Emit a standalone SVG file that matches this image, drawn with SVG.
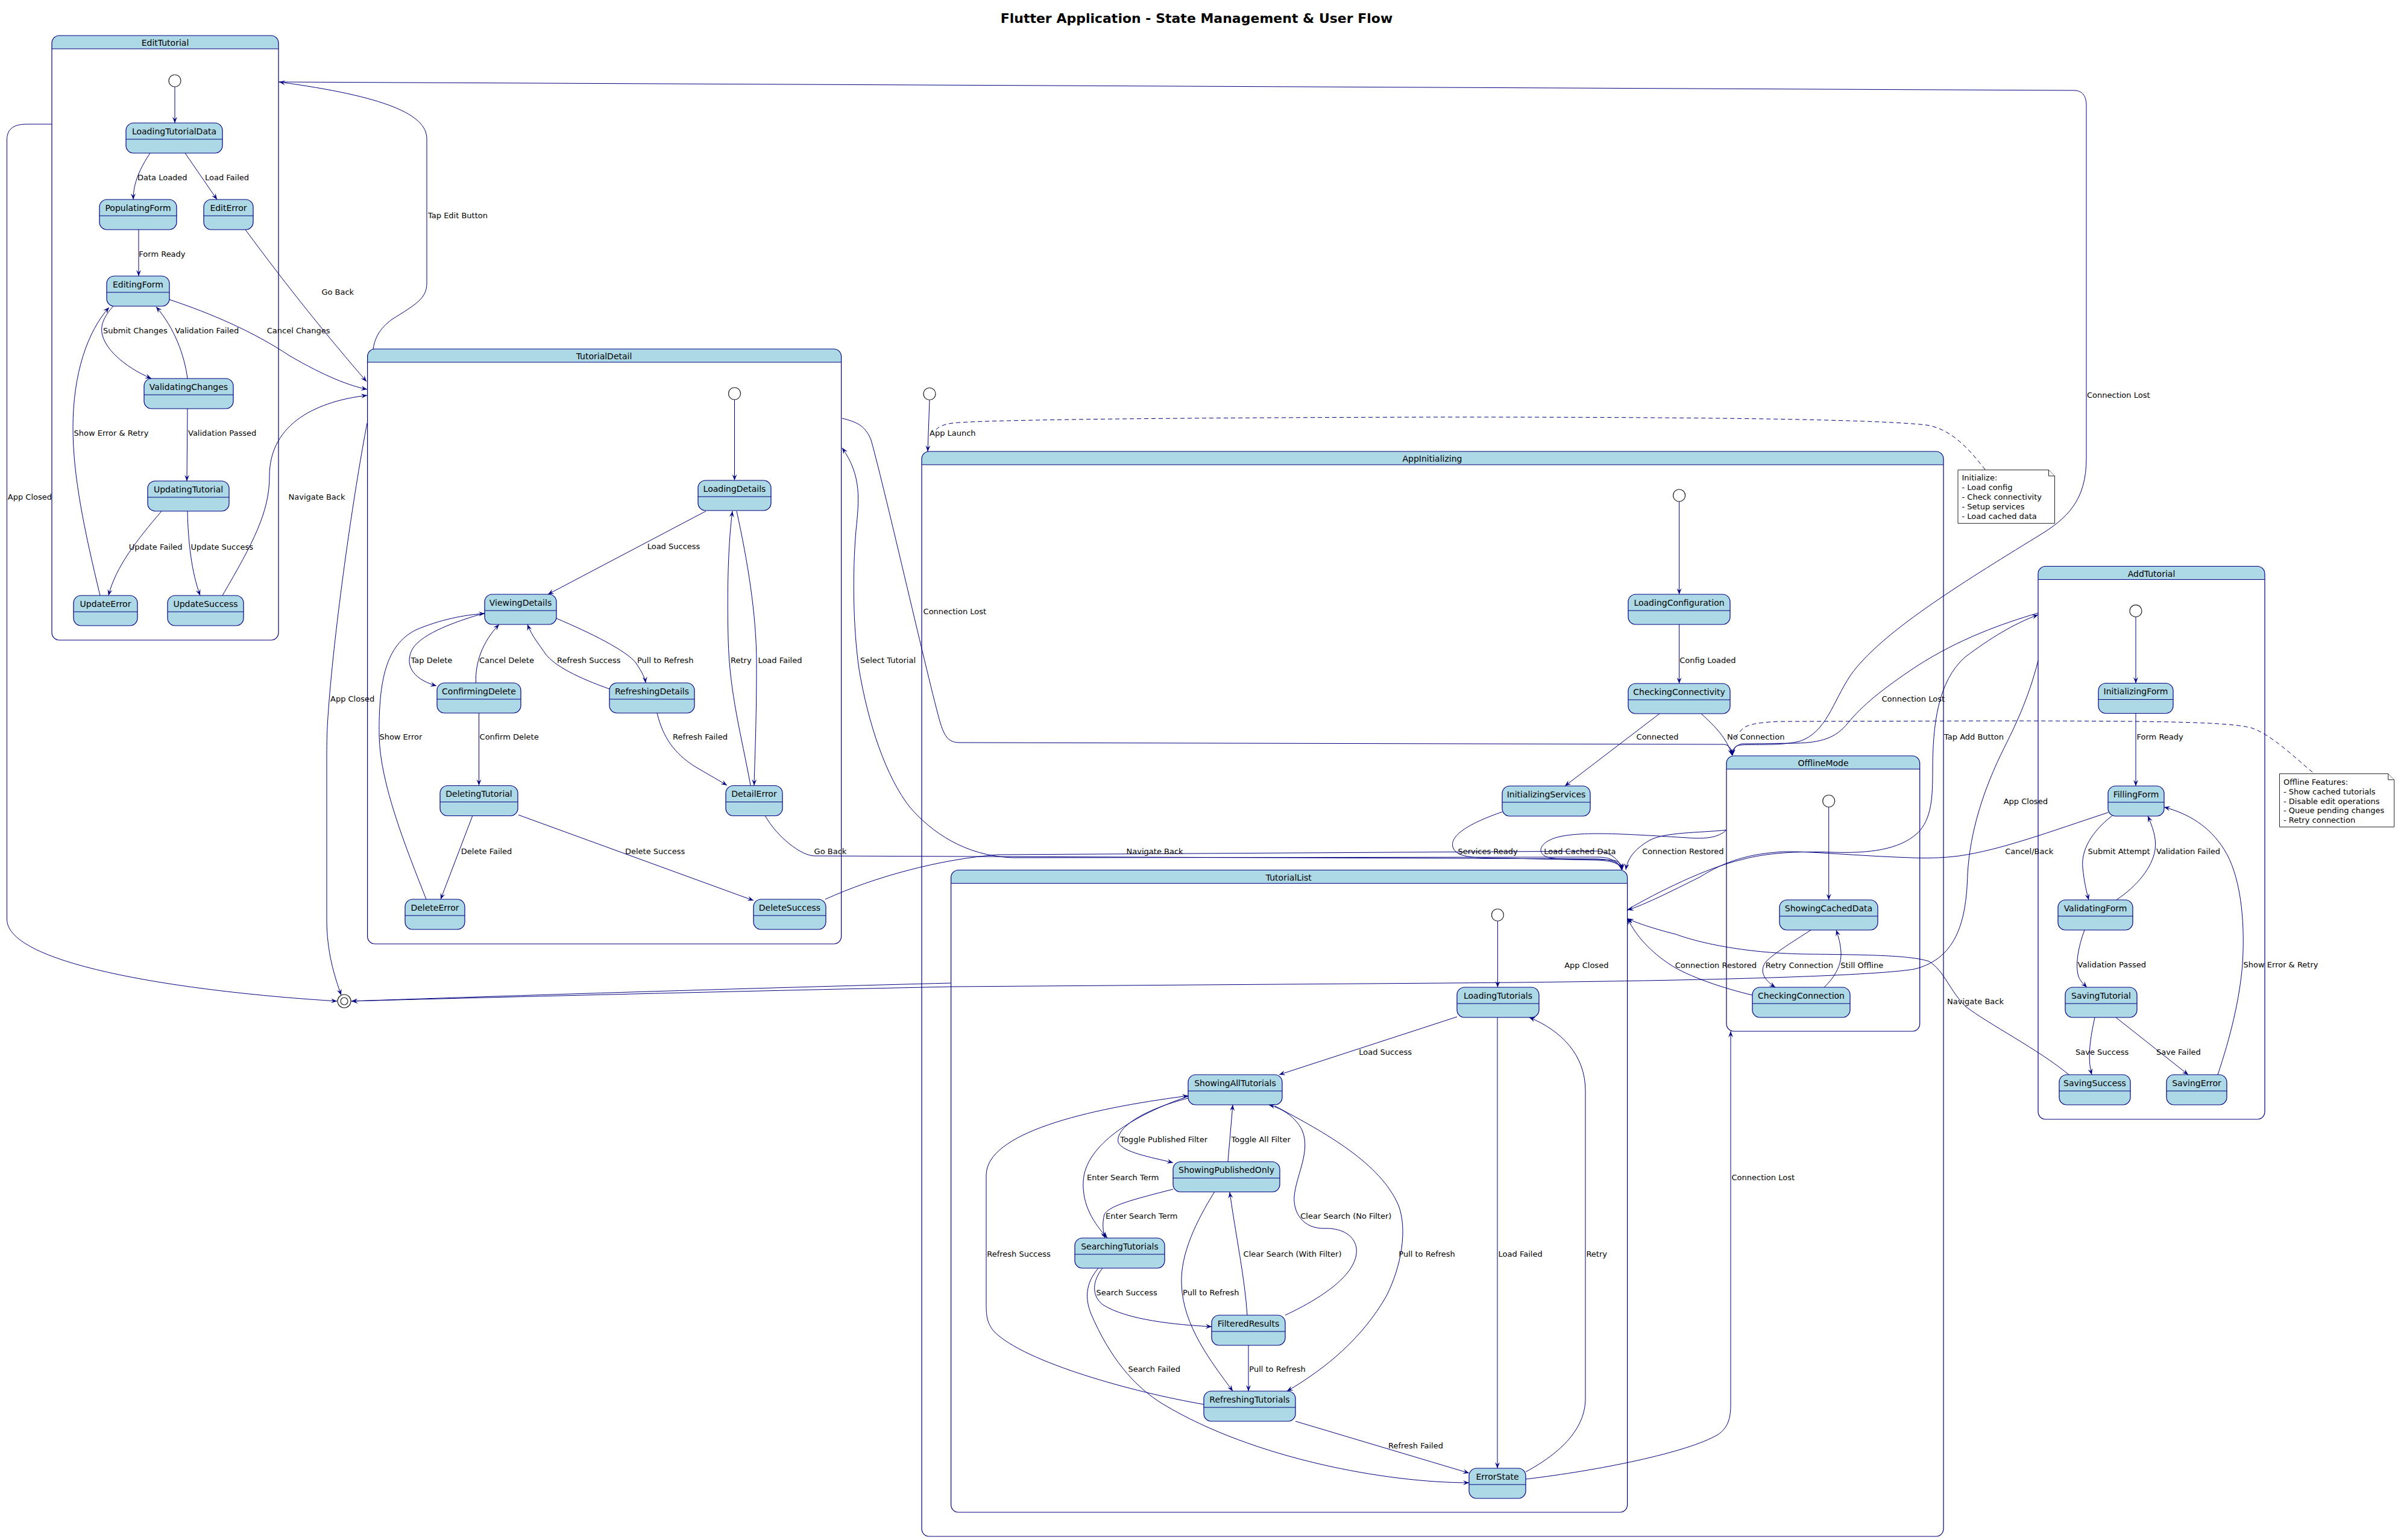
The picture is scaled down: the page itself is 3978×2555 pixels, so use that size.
<svg xmlns="http://www.w3.org/2000/svg" width="3978" height="2555" viewBox="0 0 3978 2555">
<defs>
<marker id="ah" viewBox="0 0 10 10" refX="10" refY="5" markerWidth="10" markerHeight="10" markerUnits="userSpaceOnUse" orient="auto">
<path d="M0,1 L10,5 L0,9 L4,5 Z" fill="#000080"/>
</marker>
<style>
text{font-family:"DejaVu Sans","Liberation Sans",sans-serif;fill:#000}
.title{font-size:22px;font-weight:bold;text-anchor:middle}
.nm{font-size:14px;text-anchor:middle}
.lb{font-size:13px}
.nt{font-size:13px}
.box{fill:#ADD8E6;stroke:#000080;stroke-width:1.2}
.sep{stroke:#000080;stroke-width:1.2}
.hdr{fill:#ADD8E6}
.frame{fill:none;stroke:#000080;stroke-width:1.2}
.init{fill:#fff;stroke:#222;stroke-width:1.2}
.e{fill:none;stroke:#000080;stroke-width:1;marker-end:url(#ah)}
.dash{fill:none;stroke:#000080;stroke-width:1;stroke-dasharray:7,5}
.note{fill:#fff;stroke:#222;stroke-width:1}
</style>
</defs>
<rect x="0" y="0" width="3978" height="2555" fill="#fff"/>
<text class="title" x="1985" y="38">Flutter Application - State Management &amp; User Flow</text>

<!-- composite states -->
<g id="EditTutorial">
<path class="hdr" d="M86,81 L86,71.5 Q86,59 98.5,59 L449.5,59 Q462,59 462,71.5 L462,81 Z"/>
<rect class="frame" x="86" y="59" width="376" height="1003" rx="12.5"/>
<line class="sep" x1="86" y1="81" x2="462" y2="81"/>
<text class="nm" x="274" y="76">EditTutorial</text>
</g>
<g id="TutorialDetail">
<path class="hdr" d="M609.6,601 L609.6,591.5 Q609.6,579 622.1,579 L1383.1,579 Q1395.6,579 1395.6,591.5 L1395.6,601 Z"/>
<rect class="frame" x="609.6" y="579" width="786" height="987" rx="12.5"/>
<line class="sep" x1="609.6" y1="601" x2="1395.6" y2="601"/>
<text class="nm" x="1002" y="596">TutorialDetail</text>
</g>
<g id="AppInitializing">
<path class="hdr" d="M1529,771 L1529,761.5 Q1529,749 1541.5,749 L3211.5,749 Q3224,749 3224,761.5 L3224,771 Z"/>
<rect class="frame" x="1529" y="749" width="1695" height="1800" rx="12.5"/>
<line class="sep" x1="1529" y1="771" x2="3224" y2="771"/>
<text class="nm" x="2376" y="766">AppInitializing</text>
</g>
<g id="OfflineMode">
<path class="hdr" d="M2864,1276 L2864,1266.5 Q2864,1254 2876.5,1254 L3172.2,1254 Q3184.7,1254 3184.7,1266.5 L3184.7,1276 Z"/>
<rect class="frame" x="2864" y="1254" width="320.7" height="457" rx="12.5"/>
<line class="sep" x1="2864" y1="1276" x2="3184.7" y2="1276"/>
<text class="nm" x="3024.5" y="1271">OfflineMode</text>
</g>
<g id="TutorialList">
<path class="hdr" d="M1577.6,1465.5 L1577.6,1456 Q1577.6,1443.5 1590.1,1443.5 L2687.1,1443.5 Q2699.6,1443.5 2699.6,1456 L2699.6,1465.5 Z"/>
<rect class="frame" x="1577.6" y="1443.5" width="1122" height="1065.5" rx="12.5"/>
<line class="sep" x1="1577.6" y1="1465.5" x2="2699.6" y2="1465.5"/>
<text class="nm" x="2137.8" y="1460.5">TutorialList</text>
</g>
<g id="AddTutorial">
<path class="hdr" d="M3381,961.5 L3381,952 Q3381,939.5 3393.5,939.5 L3744.5,939.5 Q3757,939.5 3757,952 L3757,961.5 Z"/>
<rect class="frame" x="3381" y="939.5" width="376" height="917.5" rx="12.5"/>
<line class="sep" x1="3381" y1="961.5" x2="3757" y2="961.5"/>
<text class="nm" x="3569" y="956.5">AddTutorial</text>
</g>

<!-- pseudo states -->
<g id="start_root"><circle class="init" cx="1542" cy="653.5" r="10"/></g>
<g id="start_edit"><circle class="init" cx="290" cy="134" r="10"/></g>
<g id="start_detail"><circle class="init" cx="1218.5" cy="653" r="10"/></g>
<g id="start_init"><circle class="init" cx="2785.6" cy="822" r="10"/></g>
<g id="start_offline"><circle class="init" cx="3033.7" cy="1329" r="10"/></g>
<g id="start_list"><circle class="init" cx="2484.4" cy="1518" r="10"/></g>
<g id="start_add"><circle class="init" cx="3543" cy="1013.6" r="10"/></g>
<g id="end"><circle class="init" cx="571" cy="1661" r="11"/><circle class="init" cx="571" cy="1661" r="6"/></g>

<!-- notes -->
<g id="note_init">
<path class="note" d="M3248,779.7 L3398.5,779.7 L3408.5,789.7 L3408.5,868.3 L3248,868.3 Z"/>
<path class="note" d="M3398.5,779.7 L3398.5,789.7 L3408.5,789.7"/>
<text class="nt" x="3254.5" y="796.7">Initialize:</text>
<text class="nt" x="3254.5" y="812.9">- Load config</text>
<text class="nt" x="3254.5" y="829.1">- Check connectivity</text>
<text class="nt" x="3254.5" y="845.1">- Setup services</text>
<text class="nt" x="3254.5" y="861.1">- Load cached data</text>
</g>
<g id="note_offline">
<path class="note" d="M3781.5,1283.7 L3961.7,1283.7 L3971.7,1293.7 L3971.7,1372 L3781.5,1372 Z"/>
<path class="note" d="M3961.7,1283.7 L3961.7,1293.7 L3971.7,1293.7"/>
<text class="nt" x="3788" y="1301.9">Offline Features:</text>
<text class="nt" x="3788" y="1318.1">- Show cached tutorials</text>
<text class="nt" x="3788" y="1333.6">- Disable edit operations</text>
<text class="nt" x="3788" y="1349.3">- Queue pending changes</text>
<text class="nt" x="3788" y="1364.9">- Retry connection</text>
</g>

<!-- simple states: EditTutorial -->
<g id="LoadingTutorialData"><rect class="box" x="209" y="204" width="160" height="50" rx="12.5"/><line class="sep" x1="209" y1="231" x2="369" y2="231"/><text class="nm" x="289" y="222.5">LoadingTutorialData</text></g>
<g id="PopulatingForm"><rect class="box" x="165" y="331" width="128" height="50" rx="12.5"/><line class="sep" x1="165" y1="358" x2="293" y2="358"/><text class="nm" x="229" y="349.5">PopulatingForm</text></g>
<g id="EditError"><rect class="box" x="338" y="331" width="82" height="50" rx="12.5"/><line class="sep" x1="338" y1="358" x2="420" y2="358"/><text class="nm" x="379" y="349.5">EditError</text></g>
<g id="EditingForm"><rect class="box" x="177" y="458" width="104" height="50" rx="12.5"/><line class="sep" x1="177" y1="485" x2="281" y2="485"/><text class="nm" x="229" y="476.5">EditingForm</text></g>
<g id="ValidatingChanges"><rect class="box" x="239" y="628" width="148" height="50" rx="12.5"/><line class="sep" x1="239" y1="655" x2="387" y2="655"/><text class="nm" x="313" y="646.5">ValidatingChanges</text></g>
<g id="UpdatingTutorial"><rect class="box" x="245" y="798" width="135" height="50" rx="12.5"/><line class="sep" x1="245" y1="825" x2="380" y2="825"/><text class="nm" x="312.5" y="816.5">UpdatingTutorial</text></g>
<g id="UpdateError"><rect class="box" x="122" y="988" width="106" height="50" rx="12.5"/><line class="sep" x1="122" y1="1015" x2="228" y2="1015"/><text class="nm" x="175" y="1006.5">UpdateError</text></g>
<g id="UpdateSuccess"><rect class="box" x="278" y="988" width="126" height="50" rx="12.5"/><line class="sep" x1="278" y1="1015" x2="404" y2="1015"/><text class="nm" x="341" y="1006.5">UpdateSuccess</text></g>

<!-- simple states: TutorialDetail -->
<g id="LoadingDetails"><rect class="box" x="1158" y="797" width="121" height="50" rx="12.5"/><line class="sep" x1="1158" y1="824" x2="1279" y2="824"/><text class="nm" x="1218.5" y="815.5">LoadingDetails</text></g>
<g id="ViewingDetails"><rect class="box" x="804" y="986" width="119" height="50" rx="12.5"/><line class="sep" x1="804" y1="1013" x2="923" y2="1013"/><text class="nm" x="863.5" y="1004.5">ViewingDetails</text></g>
<g id="ConfirmingDelete"><rect class="box" x="725" y="1133" width="139" height="50" rx="12.5"/><line class="sep" x1="725" y1="1160" x2="864" y2="1160"/><text class="nm" x="794.5" y="1151.5">ConfirmingDelete</text></g>
<g id="RefreshingDetails"><rect class="box" x="1011" y="1133" width="141" height="50" rx="12.5"/><line class="sep" x1="1011" y1="1160" x2="1152" y2="1160"/><text class="nm" x="1081.5" y="1151.5">RefreshingDetails</text></g>
<g id="DeletingTutorial"><rect class="box" x="730" y="1303.5" width="129" height="50" rx="12.5"/><line class="sep" x1="730" y1="1330.5" x2="859" y2="1330.5"/><text class="nm" x="794.5" y="1322">DeletingTutorial</text></g>
<g id="DetailError"><rect class="box" x="1204" y="1303.5" width="94" height="50" rx="12.5"/><line class="sep" x1="1204" y1="1330.5" x2="1298" y2="1330.5"/><text class="nm" x="1251" y="1322">DetailError</text></g>
<g id="DeleteError"><rect class="box" x="672" y="1492" width="99" height="50" rx="12.5"/><line class="sep" x1="672" y1="1519" x2="771" y2="1519"/><text class="nm" x="721.5" y="1510.5">DeleteError</text></g>
<g id="DeleteSuccess"><rect class="box" x="1250" y="1492" width="120" height="50" rx="12.5"/><line class="sep" x1="1250" y1="1519" x2="1370" y2="1519"/><text class="nm" x="1310" y="1510.5">DeleteSuccess</text></g>

<!-- simple states: AppInitializing -->
<g id="LoadingConfiguration"><rect class="box" x="2701" y="986" width="169" height="50" rx="12.5"/><line class="sep" x1="2701" y1="1013" x2="2870" y2="1013"/><text class="nm" x="2785.5" y="1004.5">LoadingConfiguration</text></g>
<g id="CheckingConnectivity"><rect class="box" x="2701" y="1134" width="169" height="50" rx="12.5"/><line class="sep" x1="2701" y1="1161" x2="2870" y2="1161"/><text class="nm" x="2785.5" y="1152.5">CheckingConnectivity</text></g>
<g id="InitializingServices"><rect class="box" x="2492" y="1304" width="146" height="50" rx="12.5"/><line class="sep" x1="2492" y1="1331" x2="2638" y2="1331"/><text class="nm" x="2565" y="1322.5">InitializingServices</text></g>
<g id="ShowingCachedData"><rect class="box" x="2952" y="1493" width="163" height="50" rx="12.5"/><line class="sep" x1="2952" y1="1520" x2="3115" y2="1520"/><text class="nm" x="3033.5" y="1511.5">ShowingCachedData</text></g>
<g id="CheckingConnection"><rect class="box" x="2907" y="1638" width="162" height="50" rx="12.5"/><line class="sep" x1="2907" y1="1665" x2="3069" y2="1665"/><text class="nm" x="2988" y="1656.5">CheckingConnection</text></g>
<g id="LoadingTutorials"><rect class="box" x="2417" y="1638" width="136" height="50" rx="12.5"/><line class="sep" x1="2417" y1="1665" x2="2553" y2="1665"/><text class="nm" x="2485" y="1656.5">LoadingTutorials</text></g>
<g id="ShowingAllTutorials"><rect class="box" x="1971" y="1783" width="156" height="50" rx="12.5"/><line class="sep" x1="1971" y1="1810" x2="2127" y2="1810"/><text class="nm" x="2049" y="1801.5">ShowingAllTutorials</text></g>
<g id="ShowingPublishedOnly"><rect class="box" x="1946" y="1927.5" width="177" height="50" rx="12.5"/><line class="sep" x1="1946" y1="1954.5" x2="2123" y2="1954.5"/><text class="nm" x="2034.5" y="1946">ShowingPublishedOnly</text></g>
<g id="SearchingTutorials"><rect class="box" x="1783" y="2054" width="149" height="50" rx="12.5"/><line class="sep" x1="1783" y1="2081" x2="1932" y2="2081"/><text class="nm" x="1857.5" y="2072.5">SearchingTutorials</text></g>
<g id="FilteredResults"><rect class="box" x="2010" y="2182" width="122" height="50" rx="12.5"/><line class="sep" x1="2010" y1="2209" x2="2132" y2="2209"/><text class="nm" x="2071" y="2200.5">FilteredResults</text></g>
<g id="RefreshingTutorials"><rect class="box" x="1997" y="2308" width="152" height="50" rx="12.5"/><line class="sep" x1="1997" y1="2335" x2="2149" y2="2335"/><text class="nm" x="2073" y="2326.5">RefreshingTutorials</text></g>
<g id="ErrorState"><rect class="box" x="2437" y="2436" width="94" height="50" rx="12.5"/><line class="sep" x1="2437" y1="2463" x2="2531" y2="2463"/><text class="nm" x="2484" y="2454.5">ErrorState</text></g>

<!-- simple states: AddTutorial -->
<g id="InitializingForm"><rect class="box" x="3481" y="1133.5" width="124" height="50" rx="12.5"/><line class="sep" x1="3481" y1="1160.5" x2="3605" y2="1160.5"/><text class="nm" x="3543" y="1152">InitializingForm</text></g>
<g id="FillingForm"><rect class="box" x="3497" y="1304" width="93" height="50" rx="12.5"/><line class="sep" x1="3497" y1="1331" x2="3590" y2="1331"/><text class="nm" x="3543.5" y="1322.5">FillingForm</text></g>
<g id="ValidatingForm"><rect class="box" x="3414" y="1493" width="124" height="50" rx="12.5"/><line class="sep" x1="3414" y1="1520" x2="3538" y2="1520"/><text class="nm" x="3476" y="1511.5">ValidatingForm</text></g>
<g id="SavingTutorial"><rect class="box" x="3426" y="1638" width="119" height="50" rx="12.5"/><line class="sep" x1="3426" y1="1665" x2="3545" y2="1665"/><text class="nm" x="3485.5" y="1656.5">SavingTutorial</text></g>
<g id="SavingSuccess"><rect class="box" x="3416" y="1783" width="118" height="50" rx="12.5"/><line class="sep" x1="3416" y1="1810" x2="3534" y2="1810"/><text class="nm" x="3475" y="1801.5">SavingSuccess</text></g>
<g id="SavingError"><rect class="box" x="3594" y="1783" width="100" height="50" rx="12.5"/><line class="sep" x1="3594" y1="1810" x2="3694" y2="1810"/><text class="nm" x="3644" y="1801.5">SavingError</text></g>

<!-- transitions -->
<g id="connectors">
<!-- note links -->
<path class="dash" d="M3293,779 C3270,750 3240,712 3195,705 C3100,695 2800,692 2400,692 C1900,693 1620,697 1580,702 C1565,704 1556,708 1550,716"/>
<path class="dash" d="M3836,1281 C3810,1260 3770,1220 3736,1208 C3700,1198 3600,1196 3300,1196 L2950,1197 C2910,1199 2895,1203 2888,1212 C2884,1216 2881,1220 2879,1224"/>

<!-- EditTutorial -->
<path class="e" d="M290,144 L290,204"/>
<path class="e" d="M249,254 C233,278 221,303 221,331"/>
<path class="e" d="M307,254 L360,331"/>
<path class="e" d="M230,381 L230,458"/>
<path class="e" d="M188,508 C172,525 167,540 169,552 C173,578 205,608 251,628"/>
<path class="e" d="M311,628 C306,590 290,545 259,509"/>
<path class="e" d="M311,678 L310,798"/>
<path class="e" d="M268,848 C228,895 192,940 180,988"/>
<path class="e" d="M311,848 C312,900 318,950 332,988"/>
<path class="e" d="M166,988 C140,880 121,790 121,710 C121,620 145,550 181,510"/>
<path class="e" d="M281,497 C350,520 420,550 480,590 C540,625 580,640 609,646"/>
<path class="e" d="M407,381 C480,480 545,560 608,633"/>
<path class="e" d="M369,988 C420,900 447,850 447,790 C447,700 530,665 609,656"/>
<path class="e" d="M619,579 C622,560 630,545 650,530 C690,505 708,495 708,470 L708,230 C708,190 640,160 463,136"/>
<path class="e" d="M462,136 L3440,150 C3455,150 3461,160 3461,175 L3461,760 C3461,830 3430,860 3380,890 C3250,970 3120,1050 3070,1120 C3040,1165 3030,1215 2985,1230 C2940,1240 2890,1232 2880,1238 C2876,1241 2874,1245 2874,1253"/>
<path class="e" d="M86,206 L45,206 C25,206 11.5,212 11.5,232 L11.5,1525 C11.5,1600 300,1645 559,1661"/>
<text class="lb" x="228" y="299">Data Loaded</text>
<text class="lb" x="340" y="299">Load Failed</text>
<text class="lb" x="230.3" y="426">Form Ready</text>
<text class="lb" x="533.4" y="489">Go Back</text>
<text class="lb" x="710" y="361.5">Tap Edit Button</text>
<text class="lb" x="171" y="553">Submit Changes</text>
<text class="lb" x="290.3" y="553">Validation Failed</text>
<text class="lb" x="442.8" y="553">Cancel Changes</text>
<text class="lb" x="122.5" y="723">Show Error &amp; Retry</text>
<text class="lb" x="312" y="723">Validation Passed</text>
<text class="lb" x="12.8" y="829">App Closed</text>
<text class="lb" x="478.5" y="829">Navigate Back</text>
<text class="lb" x="213.7" y="912">Update Failed</text>
<text class="lb" x="316.4" y="912">Update Success</text>
<text class="lb" x="3462" y="659.5">Connection Lost</text>

<!-- TutorialDetail -->
<path class="e" d="M1218.5,663 L1218.5,797"/>
<path class="e" d="M1171,848 L909,986"/>
<path class="e" d="M1222,848 C1240,930 1255,1020 1255,1100 C1255,1200 1252,1260 1251,1303"/>
<path class="e" d="M1245,1303 C1230,1220 1210,1150 1208,1060 C1206,980 1208,900 1215,848"/>
<path class="e" d="M923,1026 C980,1050 1040,1080 1055,1100 C1065,1115 1070,1125 1071,1133"/>
<path class="e" d="M1011,1143 C960,1125 920,1105 905,1085 C895,1070 882,1055 875,1036"/>
<path class="e" d="M804,1017 C760,1030 700,1050 684,1077 C672,1100 680,1125 724,1138"/>
<path class="e" d="M789.5,1133 C788,1100 800,1065 828,1036"/>
<path class="e" d="M707,1492 C675,1410 630,1300 629,1220 C628,1130 640,1070 690,1045 C730,1028 770,1020 804,1018"/>
<path class="e" d="M794.5,1183 L794.5,1303"/>
<path class="e" d="M784,1353 L731,1492"/>
<path class="e" d="M860,1352 L1250,1494"/>
<path class="e" d="M1090,1183 C1100,1225 1120,1250 1150,1270 C1175,1285 1195,1296 1206,1303"/>
<path class="e" d="M1269,1353 C1290,1390 1330,1420 1351,1420 L2650,1425 C2675,1426 2688,1432 2691,1443"/>
<path class="e" d="M1369,1492 C1450,1455 1560,1425 1656,1418 L2650,1412 C2675,1414 2688,1430 2691,1443"/>
<path class="e" d="M2691,1443 C2686,1430 2672,1422 2650,1422 L1680,1423 C1600,1420 1545,1380 1510,1340 C1470,1290 1440,1200 1425,1110 C1415,1040 1414,950 1420,880 C1425,830 1430,790 1397,743"/>
<path class="e" d="M1397,694 C1420,700 1435,705 1445,730 C1470,820 1540,1130 1560,1200 C1568,1225 1575,1231 1590,1232 L2860,1235 C2868,1236 2873,1242 2874,1253"/>
<path class="e" d="M609,702 C590,800 560,1000 547,1150 C543,1200 542,1215 542,1260 L542,1525 C542,1580 555,1620 566,1651"/>
<text class="lb" x="1073.7" y="910.5">Load Success</text>
<text class="lb" x="681.5" y="1100">Tap Delete</text>
<text class="lb" x="795" y="1100">Cancel Delete</text>
<text class="lb" x="924" y="1100">Refresh Success</text>
<text class="lb" x="1057" y="1100">Pull to Refresh</text>
<text class="lb" x="1212" y="1100">Retry</text>
<text class="lb" x="1257.4" y="1100">Load Failed</text>
<text class="lb" x="1427" y="1100">Select Tutorial</text>
<text class="lb" x="629.4" y="1227">Show Error</text>
<text class="lb" x="795.6" y="1227">Confirm Delete</text>
<text class="lb" x="1116" y="1227">Refresh Failed</text>
<text class="lb" x="764.8" y="1417">Delete Failed</text>
<text class="lb" x="1037" y="1417">Delete Success</text>
<text class="lb" x="1350.6" y="1417">Go Back</text>
<text class="lb" x="1868.6" y="1417">Navigate Back</text>
<text class="lb" x="548" y="1164">App Closed</text>
<text class="lb" x="1531.6" y="1018.5">Connection Lost</text>

<!-- AppInitializing -->
<path class="e" d="M1542,664 L1539,749"/>
<path class="e" d="M2785.6,832 L2785.6,986"/>
<path class="e" d="M2785.6,1036 L2785.6,1134"/>
<path class="e" d="M2753,1184 L2596,1304"/>
<path class="e" d="M2822,1184 C2845,1205 2865,1225 2873,1253"/>
<path class="e" d="M2492,1347 C2440,1365 2405,1385 2410,1405 C2415,1422 2440,1424 2500,1424 L2650,1427 C2675,1428 2688,1433 2690,1443"/>
<path class="e" d="M2864,1377 C2850,1390 2830,1392 2800,1390 C2700,1384 2620,1378 2580,1390 C2550,1400 2550,1418 2570,1423 C2600,1428 2660,1424 2680,1428 C2688,1431 2691,1436 2691,1443"/>
<path class="e" d="M2864,1377 C2820,1382 2760,1380 2735,1395 C2710,1410 2700,1425 2697,1443"/>
<text class="lb" x="1542" y="723">App Launch</text>
<text class="lb" x="2786.3" y="1100">Config Loaded</text>
<text class="lb" x="2714.6" y="1227">Connected</text>
<text class="lb" x="2865" y="1227">No Connection</text>
<text class="lb" x="2418.4" y="1417">Services Ready</text>
<text class="lb" x="2561.3" y="1417">Load Cached Data</text>
<text class="lb" x="2724.3" y="1417">Connection Restored</text>

<!-- TutorialList -->
<path class="e" d="M2484.4,1528 L2484.4,1638"/>
<path class="e" d="M2417,1687 L2122,1783"/>
<path class="e" d="M2484,1688 L2484,2436"/>
<path class="e" d="M2531,2442 C2590,2410 2630,2370 2630,2320 L2630,1810 C2630,1750 2590,1710 2537,1688"/>
<path class="e" d="M2149,2358 L2437,2444"/>
<path class="e" d="M1822,2104 C1800,2130 1800,2155 1810,2180 C1840,2250 1880,2300 1930,2330 C2080,2420 2300,2460 2437,2460"/>
<path class="e" d="M1971,1819 C1880,1850 1800,1900 1797,1960 C1795,2000 1815,2030 1837,2054"/>
<path class="e" d="M1971,1822 C1900,1840 1850,1870 1855,1895 C1862,1912 1910,1920 1946,1929"/>
<path class="e" d="M2037,1927 L2045,1833"/>
<path class="e" d="M1946,1973 C1880,1990 1840,2000 1832,2015 C1828,2030 1830,2045 1833,2054"/>
<path class="e" d="M2015,1977 C1985,2025 1958,2080 1960,2130 C1962,2200 2010,2260 2045,2308"/>
<path class="e" d="M2069,2182 C2065,2120 2050,2050 2040,1978"/>
<path class="e" d="M2132,2182 C2200,2150 2255,2110 2250,2070 C2245,2045 2220,2038 2200,2038 C2160,2040 2145,2010 2147,1985 C2150,1950 2175,1910 2160,1875 C2150,1855 2130,1840 2105,1833"/>
<path class="e" d="M2115,1835 C2200,1880 2290,1930 2320,2000 C2335,2040 2325,2100 2300,2150 C2260,2220 2200,2270 2135,2308"/>
<path class="e" d="M1829,2104 C1812,2125 1810,2150 1830,2165 C1870,2190 1950,2198 2010,2201"/>
<path class="e" d="M2071,2232 L2071,2308"/>
<path class="e" d="M1997,2330 C1880,2310 1700,2260 1650,2210 C1636,2195 1636,2180 1636,2160 L1636,1950 C1636,1880 1800,1840 1971,1818"/>
<path class="e" d="M2531,2454 C2650,2440 2800,2410 2850,2380 C2868,2368 2871,2350 2871,2330 L2871,1711"/>
<path class="e" d="M1577,1631 C1300,1638 900,1650 583,1661"/>
<text class="lb" x="2254.3" y="1749.5">Load Success</text>
<text class="lb" x="1858.2" y="1894.7">Toggle Published Filter</text>
<text class="lb" x="2042.5" y="1894.7">Toggle All Filter</text>
<text class="lb" x="1803.1" y="1958">Enter Search Term</text>
<text class="lb" x="1834.1" y="2021.5">Enter Search Term</text>
<text class="lb" x="2157.3" y="2021.5">Clear Search (No Filter)</text>
<text class="lb" x="1637.2" y="2084.7">Refresh Success</text>
<text class="lb" x="2062.6" y="2084.7">Clear Search (With Filter)</text>
<text class="lb" x="2320.3" y="2084.7">Pull to Refresh</text>
<text class="lb" x="2485.6" y="2084.7">Load Failed</text>
<text class="lb" x="2631.4" y="2084.7">Retry</text>
<text class="lb" x="1818.6" y="2149">Search Success</text>
<text class="lb" x="1962.1" y="2149">Pull to Refresh</text>
<text class="lb" x="1871.4" y="2275.8">Search Failed</text>
<text class="lb" x="2072.3" y="2275.8">Pull to Refresh</text>
<text class="lb" x="2303" y="2402.8">Refresh Failed</text>
<text class="lb" x="2595.2" y="1605.5">App Closed</text>
<text class="lb" x="2872.5" y="1958">Connection Lost</text>

<!-- OfflineMode -->
<path class="e" d="M3033.7,1339 L3033.7,1493"/>
<path class="e" d="M3004,1543 C2975,1562 2945,1580 2930,1595 C2918,1610 2925,1625 2945,1638"/>
<path class="e" d="M3026,1638 C3045,1620 3055,1600 3054,1580 C3053,1565 3050,1555 3046,1543"/>
<path class="e" d="M2907,1651 C2860,1640 2800,1620 2770,1600 C2740,1580 2715,1555 2700,1524"/>
<text class="lb" x="2778.8" y="1605.5">Connection Restored</text>
<text class="lb" x="2928.7" y="1605.5">Retry Connection</text>
<text class="lb" x="3053.2" y="1605.5">Still Offline</text>

<!-- AddTutorial -->
<path class="e" d="M3543,1024 L3543,1133.5"/>
<path class="e" d="M3543,1183.5 L3543,1304"/>
<path class="e" d="M3503,1354 C3470,1380 3452,1410 3455,1440 C3457,1460 3460,1475 3465,1493"/>
<path class="e" d="M3511,1493 C3545,1470 3570,1440 3575,1410 C3578,1390 3570,1370 3563,1354"/>
<path class="e" d="M3458,1543 C3448,1570 3442,1600 3448,1620 C3452,1630 3458,1634 3462,1638"/>
<path class="e" d="M3475,1688 C3468,1720 3462,1755 3470,1783"/>
<path class="e" d="M3510,1688 L3630,1783"/>
<path class="e" d="M3679,1783 C3700,1720 3715,1660 3720,1600 C3725,1520 3715,1450 3690,1410 C3665,1370 3630,1350 3590,1339"/>
<path class="e" d="M3432,1783 C3380,1740 3300,1700 3261,1670 C3235,1645 3225,1610 3200,1595 C3170,1585 3100,1584 3000,1583 C2900,1582 2820,1565 2780,1550 C2740,1540 2712,1530 2700,1524"/>
<path class="e" d="M3497,1348 C3400,1380 3320,1410 3250,1420 C3220,1424 3190,1424 3170,1423 C3080,1420 3000,1412 2960,1413 C2900,1416 2860,1430 2820,1455 C2770,1480 2730,1500 2700,1510"/>
<path class="e" d="M2700,1509 C2750,1480 2830,1440 2890,1426 C2930,1415 2980,1412 3040,1414 C3100,1416 3150,1410 3180,1383 C3205,1360 3206,1320 3206,1280 C3206,1200 3215,1130 3260,1090 C3300,1060 3340,1035 3381,1020"/>
<path class="e" d="M3381,1017 C3320,1035 3250,1060 3180,1105 C3120,1145 3090,1170 3065,1200 C3045,1225 3020,1232 2980,1233 L2890,1234 C2880,1236 2875,1242 2874,1253"/>
<path class="e" d="M3381,1096 C3365,1160 3340,1210 3325,1240 C3290,1310 3268,1380 3264,1450 C3262,1520 3250,1590 3175,1608 C3100,1620 2800,1628 2400,1631 L1580,1637 C1200,1645 800,1655 583,1661"/>
<text class="lb" x="3121.5" y="1164">Connection Lost</text>
<text class="lb" x="3225" y="1227">Tap Add Button</text>
<text class="lb" x="3544.5" y="1227">Form Ready</text>
<text class="lb" x="3323.7" y="1334">App Closed</text>
<text class="lb" x="3326.2" y="1417">Cancel/Back</text>
<text class="lb" x="3463.4" y="1417">Submit Attempt</text>
<text class="lb" x="3577" y="1417">Validation Failed</text>
<text class="lb" x="3446.6" y="1605">Validation Passed</text>
<text class="lb" x="3721.6" y="1605">Show Error &amp; Retry</text>
<text class="lb" x="3230" y="1666">Navigate Back</text>
<text class="lb" x="3443" y="1749.5">Save Success</text>
<text class="lb" x="3577" y="1749.5">Save Failed</text>
</g>
</svg>
